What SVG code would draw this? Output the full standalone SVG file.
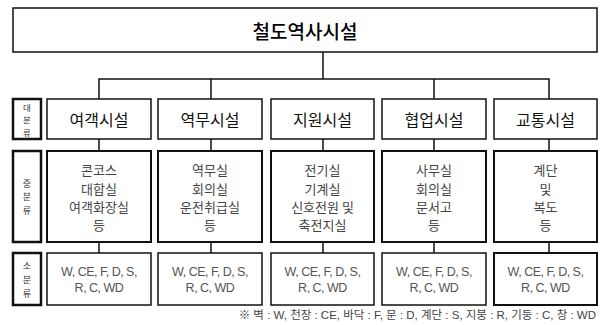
<svg xmlns="http://www.w3.org/2000/svg" width="606" height="325" viewBox="0 0 606 325">
<style>
.box{fill:#fff;stroke:#111;stroke-width:1.5}
.box2{fill:#fff;stroke:#111;stroke-width:2}
.lbl{fill:#fff;stroke:#111;stroke-width:2.5}
.ln{stroke:#111;stroke-width:1.5;fill:none}
text{font-family:"Noto Sans CJK KR","Noto Sans",sans-serif;text-anchor:middle;dominant-baseline:central}
.t0{font-size:19px;font-weight:500;fill:#000}
.t1{font-size:16px;fill:#111}
.t2{font-size:13px;fill:#444}
.t3{font-family:"Liberation Sans","Noto Sans CJK KR",sans-serif;font-size:12.5px;fill:#555;letter-spacing:-0.5px}
.tl{font-size:9px;fill:#333}
.ts{font-size:8.5px;fill:#333}
.fn{font-family:"Liberation Sans","Noto Sans CJK KR",sans-serif;font-size:11.5px;fill:#444;text-anchor:end}
</style>
<g id="connectors">
<path class="ln" d="M323 52V79M99 99V79H549V99M211 79V99"/>
<path class="ln" d="M434 79V99"/>
<path class="ln" d="M99 139V151M211 139V151M323 139V151M434 139V151M549 139V151"/>
<path class="ln" d="M99 242V253M211 242V253M323 242V253M434 242V253M549 242V253"/>
</g>
<g id="root"><rect class="box" x="13" y="8" width="584" height="44"/><text class="t0" x="305" y="30">철도역사시설</text></g>
<g id="label-major"><rect class="lbl" x="13" y="99" width="28" height="40"/><text class="ts" x="27" y="106.5">대</text><text class="ts" x="27" y="119">분</text><text class="ts" x="27" y="131.5">류</text></g>
<g id="label-mid"><rect class="lbl" x="13" y="151" width="28" height="91"/><text class="tl" x="27" y="183">중</text><text class="tl" x="27" y="196.5">분</text><text class="tl" x="27" y="210">류</text></g>
<g id="label-minor"><rect class="lbl" x="13" y="253" width="28" height="52"/><text class="tl" x="27" y="265">소</text><text class="tl" x="27" y="279">분</text><text class="tl" x="27" y="293">류</text></g>

<g id="c1"><rect class="box" x="47" y="99" width="104" height="40"/><text class="t1" x="99" y="119">여객시설</text></g>
<g id="c2"><rect class="box" x="158" y="99" width="104" height="40"/><text class="t1" x="210" y="119">역무시설</text></g>
<g id="c3"><rect class="box" x="271" y="99" width="103" height="40"/><text class="t1" x="322.5" y="119">지원시설</text></g>
<g id="c4"><rect class="box" x="382" y="99" width="104" height="40"/><text class="t1" x="434" y="119">협업시설</text></g>
<g id="c5"><rect class="box" x="494" y="99" width="103" height="40"/><text class="t1" x="545.5" y="119">교통시설</text></g>

<g id="m1"><rect class="box2" x="47" y="151" width="104" height="91"/><text class="t2" x="99" y="169">콘코스</text><text class="t2" x="99" y="188">대합실</text><text class="t2" x="99" y="206">여객화장실</text><text class="t2" x="99" y="224">등</text></g>
<g id="m2"><rect class="box2" x="158" y="151" width="104" height="91"/><text class="t2" x="210" y="169">역무실</text><text class="t2" x="210" y="188">회의실</text><text class="t2" x="210" y="206">운전취급실</text><text class="t2" x="210" y="224">등</text></g>
<g id="m3"><rect class="box2" x="271" y="151" width="103" height="91"/><text class="t2" x="322.5" y="169">전기실</text><text class="t2" x="322.5" y="188">기계실</text><text class="t2" x="322.5" y="206">신호전원 및</text><text class="t2" x="322.5" y="224">축전지실</text></g>
<g id="m4"><rect class="box2" x="382" y="151" width="104" height="91"/><text class="t2" x="434" y="169">사무실</text><text class="t2" x="434" y="188">회의실</text><text class="t2" x="434" y="206">문서고</text><text class="t2" x="434" y="224">등</text></g>
<g id="m5"><rect class="box2" x="494" y="151" width="103" height="91"/><text class="t2" x="545.5" y="169">계단</text><text class="t2" x="545.5" y="188">및</text><text class="t2" x="545.5" y="206">복도</text><text class="t2" x="545.5" y="224">등</text></g>

<g id="s1"><rect class="box" x="47" y="253" width="104" height="52"/><text class="t3" x="99" y="272">W, CE, F, D, S,</text><text class="t3" x="99" y="288">R, C, WD</text></g>
<g id="s2"><rect class="box" x="158" y="253" width="104" height="52"/><text class="t3" x="210" y="272">W, CE, F, D, S,</text><text class="t3" x="210" y="288">R, C, WD</text></g>
<g id="s3"><rect class="box" x="271" y="253" width="103" height="52"/><text class="t3" x="322.5" y="272">W, CE, F, D, S,</text><text class="t3" x="322.5" y="288">R, C, WD</text></g>
<g id="s4"><rect class="box" x="382" y="253" width="104" height="52"/><text class="t3" x="434" y="272">W, CE, F, D, S,</text><text class="t3" x="434" y="288">R, C, WD</text></g>
<g id="s5"><rect class="box2" x="494" y="253" width="103" height="52"/><text class="t3" x="545.5" y="272">W, CE, F, D, S,</text><text class="t3" x="545.5" y="288">R, C, WD</text></g>

<text class="fn" x="596" y="315">※ 벽 : W, 천장 : CE, 바닥 : F, 문 : D, 계단 : S, 지붕 : R, 기둥 : C, 창 : WD</text>
</svg>
